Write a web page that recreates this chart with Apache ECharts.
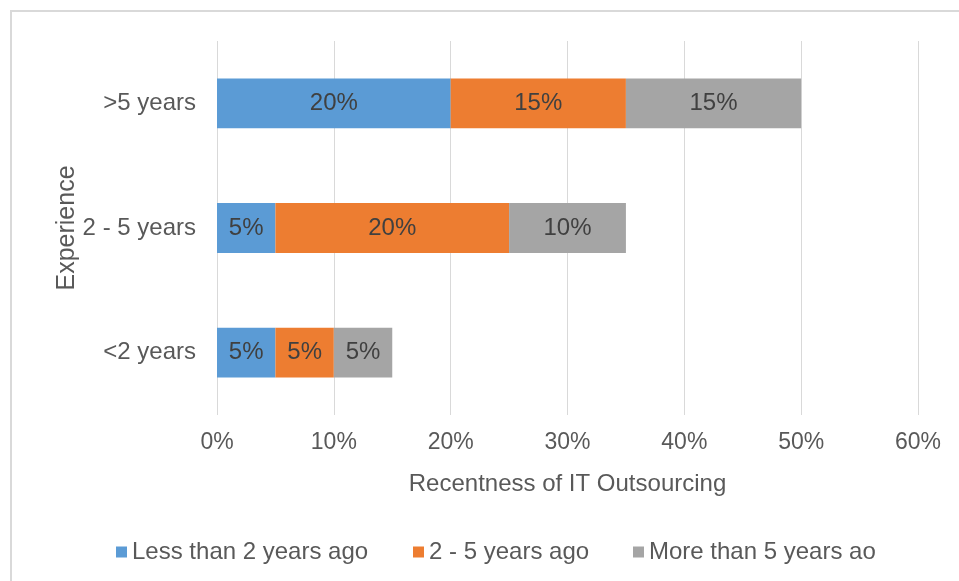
<!DOCTYPE html>
<html><head><meta charset="utf-8">
<script src="https://cdn.jsdelivr.net/npm/echarts@6/dist/echarts.min.js"></script>
<style>html,body{margin:0;padding:0;background:#fff}#c{width:959px;height:581px}</style>
</head><body><div id="c"></div>
<script>
const categories = ['<2 years', '2 - 5 years', '>5 years'];
const seriesNames = ['Less than 2 years ago', '2 - 5 years ago', 'More than 5 years ao'];
const lessThan2 = [5, 5, 20];
const twoToFive = [5, 20, 15];
const moreThan5 = [5, 10, 15];
const xTicks = [0, 10, 20, 30, 40, 50, 60];
const colors = ['#5B9BD5', '#ED7D31', '#A5A5A5'];
const FONT = '"Liberation Sans", Arial, sans-serif';

const chart = echarts.init(document.getElementById('c'), null, {renderer: 'canvas'});
const values = [lessThan2, twoToFive, moreThan5];
const legendLefts = [116, 413, 633];
chart.setOption({
  animation: false,
  textStyle: {fontFamily: FONT},
  graphic: [{type: 'rect', shape: {x: 11, y: 11, width: 1000, height: 1000},
    style: {fill: 'none', stroke: '#d9d9d9', lineWidth: 2}}],
  grid: {left: 217, right: 41, top: 41, height: 374},
  legend: seriesNames.map((n, i) => ({
    data: [n], left: legendLefts[i], top: 540, padding: 0, icon: 'rect', itemWidth: 11, itemHeight: 11,
    itemGap: 5, textStyle: {fontSize: 24, color: '#595959', fontFamily: FONT}
  })),
  xAxis: {
    type: 'value', min: xTicks[0], max: xTicks[xTicks.length - 1], interval: 10,
    name: 'Recentness of IT Outsourcing', nameLocation: 'middle', nameGap: 57,
    nameTextStyle: {fontSize: 24, color: '#595959', verticalAlign: 'top'},
    axisLabel: {formatter: '{value}%', fontSize: 23, color: '#595959', margin: 16},
    axisLine: {show: false}, axisTick: {show: false},
    splitLine: {lineStyle: {color: '#d9d9d9', width: 1}}
  },
  yAxis: {
    type: 'category', data: categories,
    name: 'Experience', nameLocation: 'middle', nameGap: 137, nameMoveOverlap: false,
    nameTextStyle: {fontSize: 25, color: '#595959'},
    axisLabel: {fontSize: 24, color: '#595959', margin: 21},
    axisLine: {show: false}, axisTick: {show: false}, splitLine: {show: false}
  },
  series: seriesNames.map((n, i) => ({
    name: n, type: 'bar', stack: 'total', data: values[i], barWidth: '40%',
    itemStyle: {color: colors[i]},
    label: {show: true, position: 'inside', formatter: '{c}%', fontSize: 24, color: '#404040'}
  }))
});
</script></body></html>
